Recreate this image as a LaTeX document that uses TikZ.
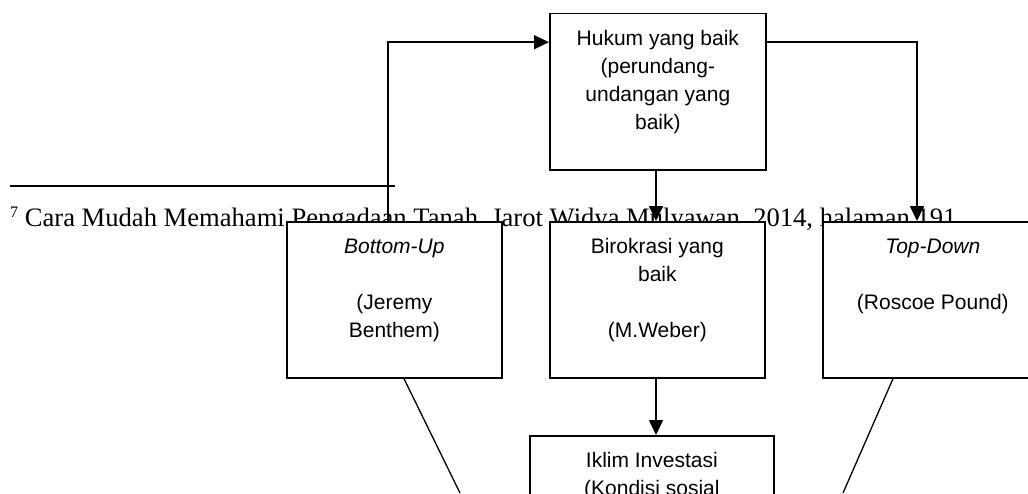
\documentclass[tikz,border=0pt]{standalone}
\usepackage{fontspec}
\setmainfont{Liberation Serif}
\newfontfamily\arialf{Liberation Sans}
\usetikzlibrary{arrows.meta,calc}
\newcommand{\wbox}[3]{\parbox[c][#2][t]{#1}{\centering\vspace*{12pt}\strut#3}}
\tikzset{
  wb/.style={draw, line width=1.7pt, fill=white, inner sep=0pt, anchor=north west,
    font=\arialf\fontsize{21}{28}\selectfont},
  conn/.style={line width=1.6pt, -{Triangle[length=15pt,width=14pt]}},
  diag/.style={line width=1.3pt},
  rule/.style={line width=1.4pt}
}
\begin{document}
\begin{tikzpicture}[x=1pt,y=-1pt]
\useasboundingbox (0,0) rectangle (1028,493);
\clip (0,0) rectangle (1028,493);
% footnote (behind the boxes)
\coordinate (r1) at (10,186);
\coordinate (r2) at (395,186);
\draw[rule] (r1) -- (r2);
\node[anchor=base west, inner sep=0pt, font=\fontsize{26.6}{30}\selectfont] (fn) at (10,226.5)
  {\raisebox{9.5pt}{\fontsize{16}{16}\selectfont 7} Cara Mudah Memahami Pengadaan Tanah, Jarot Widya Mulyawan, 2014, halaman 191};
% boxes
\node[wb] (hk) at (549,12.7) {\wbox{216pt}{156.5pt}{Hukum yang baik\\(perundang-\\undangan yang\\baik)}};
\node[wb] (bu) at (286,221) {\wbox{215pt}{156pt}{\textit{Bottom-Up}\\[28pt](Jeremy\\Benthem)}};
\node[wb] (bk) at (549,221) {\wbox{215pt}{156pt}{Birokrasi yang\\baik\\[28pt](M.Weber)}};
\node[wb] (td) at (822,221) {\wbox{220pt}{156pt}{\textit{Top-Down}\\[28pt](Roscoe Pound)}};
\node[wb] (ik) at (529,435) {\wbox{244pt}{160pt}{Iklim Investasi\\(Kondisi sosial}};
% connectors
\coordinate (buT) at ($(bu.north west)+(102,0)$);
\coordinate (hkL) at ($(hk.north west)+(0,29.5)$);
\draw[conn] (buT) |- (hkL);
\coordinate (hkR) at ($(hk.north east)+(0,29.5)$);
\coordinate (tdT) at ($(td.north west)+(95,0)$);
\draw[conn] (hkR) -| (tdT);
\coordinate (hkB) at ($(hk.south west)+(107,0)$);
\draw[conn] (hkB) -- (hkB |- bk.north);
\coordinate (bkB) at ($(bk.south west)+(107,0)$);
\draw[conn] (bkB) -- (bkB |- ik.north);
% diagonals running down past the page edge
\coordinate (buB) at ($(bu.south west)+(118,0)$);
\coordinate (lend) at (460,493);
\draw[diag] (buB) -- (lend);
\coordinate (tdB) at ($(td.south west)+(71,0)$);
\coordinate (rend) at (843,493);
\draw[diag] (tdB) -- (rend);
\end{tikzpicture}
\end{document}
